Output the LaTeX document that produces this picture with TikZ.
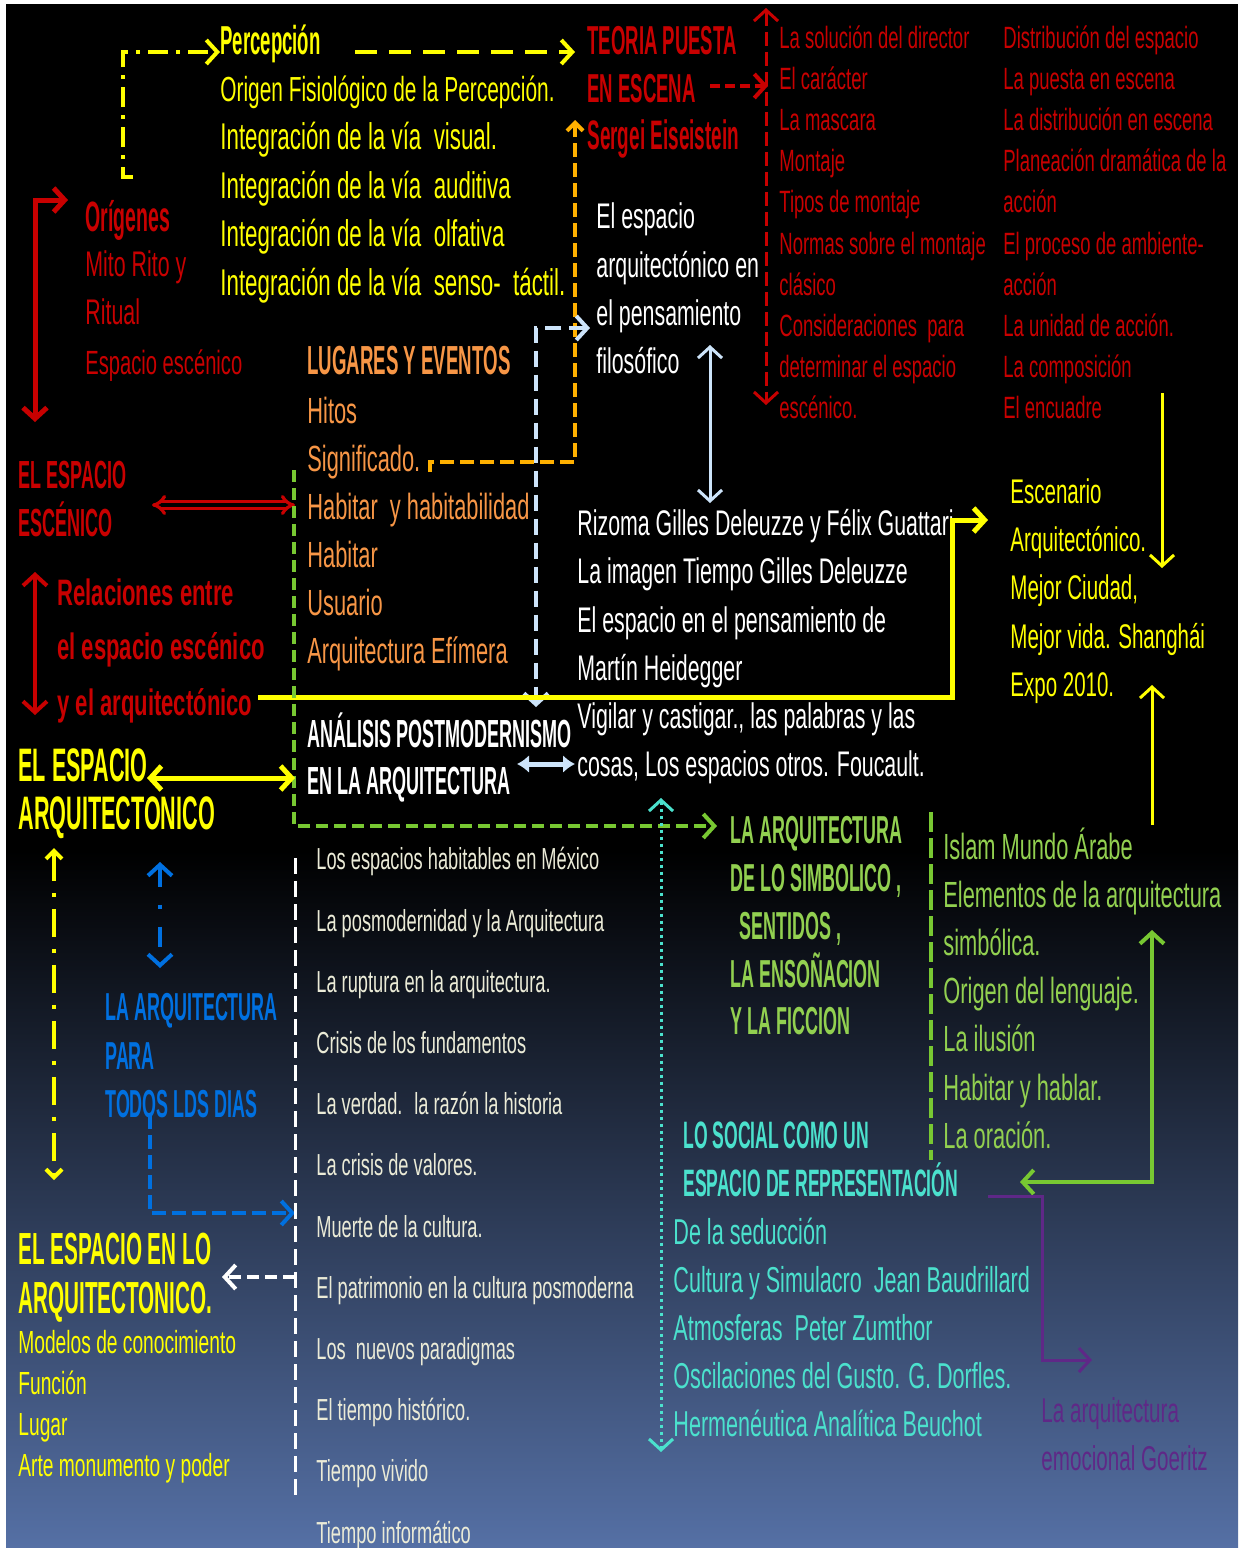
\documentclass[tikz,border=0pt]{standalone}
\usepackage{fontspec}
\setmainfont{Liberation Sans}[FakeStretch=0.6]
\newfontfamily\cnd{Liberation Sans}[FakeStretch=0.46]
\usetikzlibrary{arrows.meta}
\definecolor{cYel}{RGB}{255,255,0}
\definecolor{cRed}{RGB}{200,0,0}
\definecolor{cOra}{RGB}{247,150,70}
\definecolor{cAmb}{RGB}{255,176,0}
\definecolor{cPale}{RGB}{205,228,250}
\definecolor{cCream}{RGB}{235,235,215}
\definecolor{cBlue}{RGB}{0,112,224}
\definecolor{cGrn}{RGB}{146,208,80}
\definecolor{cGrnL}{RGB}{120,200,50}
\definecolor{cTeal}{RGB}{75,225,205}
\definecolor{cPur}{RGB}{95,40,135}
\definecolor{cBg}{RGB}{85,112,165}
\newcommand\fz[1]{\fontsize{#1}{#1}\selectfont}
\tikzset{
  tx/.style={inner sep=0pt, anchor=west, text depth=0pt},
  hb/.style 2 args={tx, font=\cnd\bfseries\fz{#1}, text height=#2},
  rg/.style 2 args={tx, font=\fz{#1}, text height=#2},
  rb/.style 2 args={tx, font=\bfseries\fz{#1}, text height=#2},
  tipA/.tip={Straight Barb[length=5.5pt,width=12pt]},
  tipS/.tip={Straight Barb[length=4pt,width=8pt]},
}
\begin{document}
\begin{tikzpicture}[x=0.5pt,y=-0.5pt]
\useasboundingbox (0,0) rectangle (1238,1548);
% background
\fill[white] (0,0) rectangle (1238,1548);
\fill[black] (6,4) rectangle (1238,851);
\shade[top color=black, bottom color=cBg] (6,850) rectangle (1238,1548);

% ---------- texts ----------
\node[hb={20.2}{14.5pt}, text=cYel] (perc) at (220,40) {Percepción};
\node[rg={17.4}{13.3pt}, text=cYel] (pvo) at (220,88) {Origen Fisiológico de la Percepción.};
\foreach \s [count=\i from 1] in {Integración de la vía~ visual., Integración de la vía~ auditiva, Integración de la vía~ olfativa, Integración de la vía~ senso-~ táctil.}
  \node[rg={18.6}{13.3pt}, text=cYel] (pv\i) at (220,{88+48.5*\i}) {\s};

\node[hb={20.2}{14.5pt}, text=cRed] (teo1) at (587,40) {TEORIA PUESTA};
\node[hb={20.2}{14.5pt}, text=cRed] (teo2) at (587,88) {EN ESCENA};
\node[hb={20.6}{14.8pt}, text=cRed] (teo3) at (587,135) {Sergei Eiseistein};

\foreach \s [count=\i from 0] in {La solución del director, El carácter, La mascara, Montaje, Tipos de montaje, Normas sobre el montaje, clásico, Consideraciones~ para, determinar el espacio, escénico.}
  \node[rg={15.4}{11pt}, text=cRed] (ra\i) at (779,{37+41.2*\i}) {\s};
\foreach \s [count=\i from 0] in {Distribución del espacio, La puesta en escena, La distribución en escena, Planeación dramática de la, acción, El proceso de ambiente-, acción, La unidad de acción., La composición, El encuadre}
  \node[rg={15.4}{11pt}, text=cRed] (rb\i) at (1003,{37+41.2*\i}) {\s};

\foreach \s [count=\i from 0] in {El espacio, arquitectónico en, el pensamiento, filosófico}
  \node[rg={17.8}{12.7pt}, text=white] (fi\i) at (596,{216+48.3*\i}) {\s};

\node[hb={20.3}{14.5pt}, text=cOra] (lug) at (307,360) {LUGARES Y EVENTOS};
\foreach \s [count=\i from 0] in {Hitos, Significado., Habitar~ y habitabilidad, Habitar, Usuario, Arquitectura Efímera}
  \node[rg={18.2}{13pt}, text=cOra] (lg\i) at (307,{410+48*\i}) {\s};

\foreach \s [count=\i from 0] in {Rizoma Gilles Deleuzze y Félix Guattari, La imagen Tiempo Gilles Deleuzze, El espacio en el pensamiento de, Martín Heidegger, {Vigilar y castigar., las palabras y las}, {cosas, Los espacios otros. Foucault.}}
  \node[rg={17.8}{12.7pt}, text=white] (rz\i) at (577,{523+48.2*\i}) {\s};

\node[hb={19.6}{14pt}, text=white] (ana1) at (307,733) {ANÁLISIS POSTMODERNISMO};
\node[hb={19.6}{14pt}, text=white] (ana2) at (307,780) {EN LA ARQUITECTURA};

\foreach \s [count=\i from 0] in {Los espacios habitables en México, La posmodernidad y la Arquitectura, La ruptura en la arquitectura., Crisis de los fundamentos, La verdad.~ la razón la historia, La crisis de valores., Muerte de la cultura., El patrimonio en la cultura posmoderna, Los~ nuevos paradigmas, El tiempo histórico., Tiempo vivido, Tiempo informático}
  \node[rg={15.2}{10.9pt}, text=cCream] (wl\i) at (316,{859+61.2*\i}) {\s};

\node[hb={21.2}{15.2pt}, text=cRed] (ori) at (85,216) {Orígenes};
\node[rg={17.8}{12.7pt}, text=cRed] (ori1) at (85,264) {Mito Rito y};
\node[rg={17.8}{12.7pt}, text=cRed] (ori2) at (85,312) {Ritual};
\node[rg={16.8}{12.3pt}, text=cRed] (ori3) at (85,362) {Espacio escénico};

\node[hb={19.6}{14pt}, text=cRed] (ee1) at (18,474) {EL ESPACIO};
\node[hb={19.6}{14pt}, text=cRed] (ee2) at (18,522) {ESCÉNICO};

\node[rb={18.4}{13.2pt}, text=cRed] (rel1) at (57,592) {Relaciones entre};
\node[rb={18.4}{13.2pt}, text=cRed] (rel2) at (57,646) {el espacio escénico};
\node[rb={18.4}{13.2pt}, text=cRed] (rel3) at (57,702) {y el arquitectónico};

\node[hb={23.5}{16.6pt}, text=cYel] (ea1) at (18,765) {EL ESPACIO};
\node[hb={23.5}{16.6pt}, text=cYel] (ea2) at (18,813) {ARQUITECTONICO};

\node[hb={19.5}{14pt}, text=cBlue] (bl1) at (105,1006) {LA ARQUITECTURA};
\node[hb={19.5}{14pt}, text=cBlue] (bl2) at (105,1055) {PARA};
\node[hb={19.5}{14pt}, text=cBlue] (bl3) at (105,1103) {TODOS LDS DIAS};

\node[hb={22.5}{16.1pt}, text=cYel] (el1) at (18,1248) {EL ESPACIO EN LO};
\node[hb={22.5}{16.1pt}, text=cYel] (el2) at (18,1297) {ARQUITECTONICO.};
\foreach \s [count=\i from 0] in {Modelos de conocimiento, Función, Lugar, Arte monumento y poder}
  \node[rg={16}{11.5pt}, text=cYel] (md\i) at (18,{1342+41*\i}) {\s};

\foreach \s [count=\i from 0] in {Escenario, Arquitectónico., {Mejor Ciudad,}, Mejor vida. Shanghái, Expo 2010.}
  \node[rg={17.1}{12.2pt}, text=cYel] (es\i) at (1010,{491+48.3*\i}) {\s};

\node[hb={19.5}{14pt}, text=cGrn] (gh0) at (730,829) {LA ARQUITECTURA};
\node[hb={19.5}{14pt}, text=cGrn] (gh1) at (730,877) {DE LO SIMBOLICO ,};
\node[hb={19.5}{14pt}, text=cGrn] (gh2) at (739,925) {SENTIDOS ,};
\node[hb={19.5}{14pt}, text=cGrn] (gh3) at (730,973) {LA ENSOÑACION};
\node[hb={19.5}{14pt}, text=cGrn] (gh4) at (730,1020) {Y LA FICCION};
\foreach \s [count=\i from 0] in {Islam Mundo Árabe, Elementos de la arquitectura, simbólica., Origen del lenguaje., La ilusión, Habitar y hablar., La oración.}
  \node[rg={18.2}{13pt}, text=cGrn] (gl\i) at (943,{846+48.2*\i}) {\s};

\node[hb={19.1}{13.7pt}, text=cTeal] (so1) at (683,1135) {LO SOCIAL COMO UN};
\node[hb={19.1}{13.7pt}, text=cTeal] (so2) at (683,1183) {ESPACIO DE REPRESENTACIÓN};
\foreach \s [count=\i from 0] in {De la seducción, Cultura y Simulacro~ Jean Baudrillard, Atmosferas~ Peter Zumthor, Oscilaciones del Gusto. G. Dorfles., Hermenéutica Analítica Beuchot}
  \node[rg={18}{12.9pt}, text=cTeal] (tl\i) at (673,{1232+48*\i}) {\s};

\node[rg={17.2}{12.3pt}, text=cPur] (pu1) at (1041,1410) {La arquitectura};
\node[rg={17.2}{12.3pt}, text=cPur] (pu2) at (1041,1458) {emocional Goeritz};

% ---------- connector points ----------
\coordinate (y1) at (133,177); \coordinate (y2) at (123,177);
\coordinate (y3) at (123,52);  \coordinate (y4) at (220,52);
\coordinate (y5) at (355,52);  \coordinate (y6) at (575,52);
\coordinate (r1) at (710,86);  \coordinate (r2) at (768,86);
\coordinate (r3) at (766,8);   \coordinate (r4) at (766,405);
\coordinate (o1) at (430,472); \coordinate (o2) at (430,462);
\coordinate (o3) at (575,462); \coordinate (o4) at (575,120);
\coordinate (p1) at (590,328); \coordinate (p2) at (536,328); \coordinate (p3) at (536,707);
\coordinate (p4) at (710,345); \coordinate (p5) at (710,503);
\coordinate (p6) at (517,764); \coordinate (p7) at (575,764);
\coordinate (g1) at (258,697); \coordinate (g2) at (952,697);
\coordinate (g3) at (952,520); \coordinate (g4) at (988,520);
\coordinate (g5) at (1162,393); \coordinate (g6) at (1162,568);
\coordinate (g7) at (1152,825); \coordinate (g8) at (1152,685);
\coordinate (d1) at (152,505); \coordinate (d2) at (295,505);
\coordinate (d3) at (35,572);  \coordinate (d4) at (35,715);
\coordinate (d5) at (68,200);  \coordinate (d6) at (35,200); \coordinate (d7) at (35,422);
\coordinate (k1) at (54,848);  \coordinate (k2) at (54,1180);
\coordinate (b1) at (160,862); \coordinate (b2) at (160,968);
\coordinate (b3) at (150,1115); \coordinate (b4) at (150,1213); \coordinate (b5) at (295,1213);
\coordinate (w1) at (295,858); \coordinate (w2) at (295,1500);
\coordinate (w3) at (295,1277); \coordinate (w4) at (222,1277);
\coordinate (n1) at (294,470); \coordinate (n2) at (294,826); \coordinate (n3) at (717,826);
\coordinate (a1) at (147,778); \coordinate (a2) at (295,778);
\coordinate (t1) at (661,798); \coordinate (t2) at (661,1452);
\coordinate (q1) at (1152,930); \coordinate (q2) at (1152,1182); \coordinate (q3) at (1020,1182);
\coordinate (u1) at (988,1196); \coordinate (u2) at (1042,1196);
\coordinate (u3) at (1042,1360); \coordinate (u4) at (1092,1360);
\coordinate (v1) at (931,812); \coordinate (v2) at (931,1160);

% ---------- connectors ----------
\draw[cYel, line width=2pt, dash pattern=on 10pt off 4pt on 2pt off 4pt, -{tipA}] (y1) -- (y2) -- (y3) -- (y4);
\draw[cYel, line width=2pt, dash pattern=on 11pt off 6pt, -{tipA}] (y5) -- (y6);
\draw[cRed, line width=2pt, dash pattern=on 5pt off 2.5pt, -{tipA}] (r1) -- (r2);
\draw[cRed, line width=1.5pt, dash pattern=on 7pt off 3pt, {tipA}-{tipA}] (r3) -- (r4);
\draw[cAmb, line width=2pt, dash pattern=on 7pt off 3pt, -{tipS}] (o1) -- (o2) -- (o3) -- (o4);
\draw[cPale, line width=2pt, dash pattern=on 8pt off 4pt, {tipA}-{tipA}] (p1) -- (p2) -- (p3);
\draw[cPale, line width=1.5pt, {tipA}-{tipA}] (p4) -- (p5);
\draw[cPale, line width=2.5pt, {Latex[length=6pt,width=9pt]}-{Latex[length=6pt,width=9pt]}] (p6) -- (p7);
\draw[cYel, line width=2.5pt, -{tipA}] (g1) -- (g2) -- (g3) -- (g4);
\draw[cYel, line width=1.5pt, -{tipA}] (g5) -- (g6);
\draw[cYel, line width=1.5pt, -{tipA}] (g7) -- (g8);
\draw[cRed, line width=1.6pt, double=black, double distance=1.6pt, {Implies}-{Implies}] (d1) -- (d2);
\draw[cRed, line width=2pt, {tipA}-{tipA}] (d3) -- (d4);
\draw[cRed, line width=2.5pt, {tipA}-{tipA}] (d5) -- (d6) -- (d7);
\draw[cYel, line width=2pt, dash pattern=on 14pt off 6pt on 2pt off 6pt, {tipS}-{tipS}] (k1) -- (k2);
\draw[cBlue, line width=2pt, dash pattern=on 10pt off 9pt on 2pt off 9pt, {tipA}-{tipA}] (b1) -- (b2);
\draw[cBlue, line width=2pt, dash pattern=on 7pt off 3pt, -{tipA}] (b3) -- (b4) -- (b5);
\draw[white, line width=1.5pt, dash pattern=on 8pt off 3.5pt] (w1) -- (w2);
\draw[white, line width=2pt, dash pattern=on 6pt off 3pt, -{tipA}] (w3) -- (w4);
\draw[cGrnL, line width=2pt, dash pattern=on 6pt off 3pt, -{tipA}] (n1) -- (n2) -- (n3);
\draw[cYel, line width=2.5pt, {tipA}-{tipA}] (a1) -- (a2);
\draw[cTeal, line width=1.5pt, dash pattern=on 1.5pt off 2pt, {tipA}-{tipA}] (t1) -- (t2);
\draw[cGrnL, line width=2pt, {tipA}-{tipA}] (q1) -- (q2) -- (q3);
\draw[cPur, line width=1.5pt, -{tipA}] (u1) -- (u2) -- (u3) -- (u4);
\draw[cGrnL, line width=2pt, dash pattern=on 10pt off 3pt] (v1) -- (v2);
\end{tikzpicture}
\end{document}
